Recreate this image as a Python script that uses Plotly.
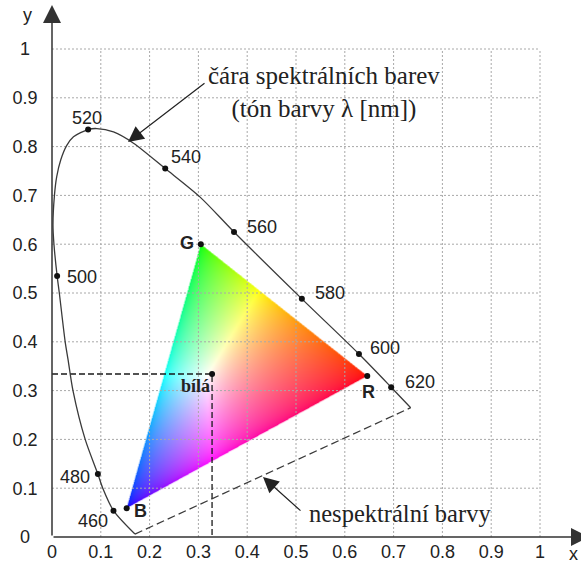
import base64
import struct
import zlib

import numpy as np
import plotly.graph_objects as go

# ---------------- data ----------------
locus_x = [0.170, 0.126, 0.104, 0.094, 0.068, 0.043, 0.033, 0.027, 0.015, 0.0105,
           0.004, 0.002, 0.005, 0.0096, 0.018, 0.030, 0.044, 0.074, 0.092, 0.126,
           0.167, 0.232, 0.303, 0.373, 0.512, 0.629, 0.695, 0.735]
locus_y = [0.006, 0.054, 0.100, 0.129, 0.200, 0.300, 0.363, 0.400, 0.500, 0.535,
           0.600, 0.640, 0.700, 0.738, 0.773, 0.802, 0.820, 0.835, 0.837, 0.830,
           0.807, 0.755, 0.697, 0.625, 0.488, 0.375, 0.307, 0.265]

wl_labels = ["460", "480", "500", "520", "540", "560", "580", "600", "620"]
wl_x = [0.126, 0.094, 0.0105, 0.074, 0.232, 0.373, 0.512, 0.629, 0.695]
wl_y = [0.054, 0.129, 0.535, 0.835, 0.755, 0.625, 0.488, 0.375, 0.307]

prim_names = ["R", "G", "B"]
prim_x = [0.646, 0.305, 0.153]
prim_y = [0.330, 0.600, 0.059]

white_name = "bílá"
white_x = 0.328
white_y = 0.334

tick_vals = [0, 0.1, 0.2, 0.3, 0.4, 0.5, 0.6, 0.7, 0.8, 0.9, 1]
tick_text = ["0", "0.1", "0.2", "0.3", "0.4", "0.5", "0.6", "0.7", "0.8", "0.9", "1"]

title_text = "čára spektrálních barev<br>(tón barvy λ [nm])"
purple_text = "nespektrální barvy"

# ---------------- layout geometry / styles ----------------
W_PX, H_PX = 581, 566
PPU = 488.0           # pixels per unit
X0_PX, Y0_PX = 52.0, 537.0
xr = [-X0_PX / PPU, (W_PX - X0_PX) / PPU]
yr = [-(H_PX - Y0_PX) / PPU, Y0_PX / PPU]

def px2x(p):
    return (p - X0_PX) / PPU

def px2y(p):
    return (Y0_PX - p) / PPU

SANS = "Liberation Sans, Arial, sans-serif"
SERIF = "Liberation Serif, Times New Roman, serif"
TXT = "#222222"
LINE = "#3a3a3a"
FS = 18

# label pixel offsets (right, down)
wl_off = [(-20, 10), (-23, 3), (25, 1), (-1, -12), (21, -12), (28, -5), (28, -6), (26, -6), (29, -5)]
prim_off = [(1, 16), (-14, -1), (14, 3)]
white_off = (-17, 12)

# ---------------- triangle colour image ----------------
S = 2 * PPU
pad = 0.004
bx0, bx1 = min(prim_x) - pad, max(prim_x) + pad
by0, by1 = min(prim_y) - pad, max(prim_y) + pad
Wi = int(round((bx1 - bx0) * S))
Hi = int(round((by1 - by0) * S))
gx = bx0 + (np.arange(Wi) + 0.5) / S
gy = by1 - (np.arange(Hi) + 0.5) / S
X, Y = np.meshgrid(gx, gy)
(x1, y1), (x2, y2), (x3, y3) = zip(prim_x, prim_y)
det = (y2 - y3) * (x1 - x3) + (x3 - x2) * (y1 - y3)
l1 = ((y2 - y3) * (X - x3) + (x3 - x2) * (Y - y3)) / det
l2 = ((y3 - y1) * (X - x3) + (x1 - x3) * (Y - y3)) / det
l3 = 1 - l1 - l2
inside = (l1 >= 0) & (l2 >= 0) & (l3 >= 0)
sums = np.array([0.6443, 1.1920, 1.2032])
c = np.stack([np.clip(l1, 0, 1) / sums[0], np.clip(l2, 0, 1) / sums[1], np.clip(l3, 0, 1) / sums[2]], axis=-1)
c = c / np.maximum(c.max(axis=-1, keepdims=True), 1e-9)
c = np.power(c, 1 / 1.9)
rgba = np.zeros((Hi, Wi, 4), dtype=np.uint8)
rgba[..., :3] = np.clip(np.round(c * 255), 0, 255).astype(np.uint8)
rgba[..., 3] = np.where(inside, 255, 0).astype(np.uint8)
raw = b"".join(b"\x00" + rgba[i].tobytes() for i in range(Hi))


def chunk(t, d):
    return struct.pack(">I", len(d)) + t + d + struct.pack(">I", zlib.crc32(t + d) & 0xFFFFFFFF)


png = (b"\x89PNG\r\n\x1a\n" + chunk(b"IHDR", struct.pack(">IIBBBBB", Wi, Hi, 8, 6, 0, 0, 0))
       + chunk(b"IDAT", zlib.compress(raw, 9)) + chunk(b"IEND", b""))
png_uri = "data:image/png;base64," + base64.b64encode(png).decode()

# ---------------- figure ----------------
fig = go.Figure()

# grid
gxs, gys = [], []
for v in tick_vals[1:]:
    gxs += [v, v, None]
    gys += [0, 1, None]
    gxs += [0, 1, None]
    gys += [v, v, None]
fig.add_trace(go.Scatter(x=gxs, y=gys, mode="lines", hoverinfo="skip",
                         line=dict(color="#a8a8a8", width=1, dash="2px,2px")))

# white point dashed guides
fig.add_trace(go.Scatter(x=[0, white_x, white_x], y=[white_y, white_y, 0], mode="lines",
                         line=dict(color="#1a1a1a", width=1.3, dash="6px,3px"), hoverinfo="skip"))

# purple line
fig.add_trace(go.Scatter(x=[locus_x[0], locus_x[-1]], y=[locus_y[0], locus_y[-1]], mode="lines",
                         line=dict(color=LINE, width=1.3, dash="8px,4px"), hoverinfo="skip"))

# spectral locus
fig.add_trace(go.Scatter(x=locus_x, y=locus_y, mode="lines",
                         line=dict(color=LINE, width=1.3, shape="spline", smoothing=0.8),
                         hoverinfo="skip"))

# dots
fig.add_trace(go.Scatter(x=wl_x + prim_x + [white_x], y=wl_y + prim_y + [white_y], mode="markers",
                         marker=dict(color="#111111", size=6), hoverinfo="skip"))

# tick labels
fig.add_trace(go.Scatter(x=tick_vals, y=[px2y(553)] * len(tick_vals), mode="text", text=tick_text,
                         textfont=dict(family=SANS, size=FS, color=TXT), hoverinfo="skip", cliponaxis=False))
fig.add_trace(go.Scatter(x=[px2x(25)] * len(tick_vals), y=[v - 0.004 for v in tick_vals], mode="text",
                         text=tick_text, textfont=dict(family=SANS, size=FS, color=TXT),
                         hoverinfo="skip", cliponaxis=False))

ann = []
for t, x, y, (dx, dy) in zip(wl_labels, wl_x, wl_y, wl_off):
    ann.append(dict(x=x, y=y, xref="x", yref="y", text=t, showarrow=False, xshift=dx, yshift=-dy,
                    font=dict(family=SANS, size=FS, color=TXT)))
for t, x, y, (dx, dy) in zip(prim_names, prim_x, prim_y, prim_off):
    ann.append(dict(x=x, y=y, xref="x", yref="y", text="<b>" + t + "</b>", showarrow=False,
                    xshift=dx, yshift=-dy, font=dict(family=SANS, size=FS, color=TXT)))
ann.append(dict(x=white_x, y=white_y, xref="x", yref="y", text="<b>" + white_name + "</b>", showarrow=False,
                xshift=white_off[0], yshift=-white_off[1], font=dict(family=SERIF, size=18, color=TXT)))

ann.append(dict(x=px2x(323.5), y=px2y(92), xref="x", yref="y", text=title_text, showarrow=False,
                font=dict(family=SERIF, size=25, color=TXT), align="center"))
ann.append(dict(x=px2x(400), y=px2y(513), xref="x", yref="y", text=purple_text, showarrow=False,
                font=dict(family=SERIF, size=24.5, color=TXT)))

# pointer arrows
ann.append(dict(x=px2x(128), y=px2y(142), ax=px2x(206), ay=px2y(82), xref="x", yref="y", axref="x", ayref="y",
                text="", showarrow=True, arrowhead=2, arrowsize=2.6, arrowwidth=1.2, arrowcolor="#222"))
ann.append(dict(x=px2x(263), y=px2y(477), ax=px2x(302), ay=px2y(512), xref="x", yref="y", axref="x", ayref="y",
                text="", showarrow=True, arrowhead=2, arrowsize=2.6, arrowwidth=1.2, arrowcolor="#222"))

# axes with arrows
ann.append(dict(x=0, y=px2y(5), ax=0, ay=0, xref="x", yref="y", axref="x", ayref="y",
                text="", showarrow=True, arrowhead=2, arrowsize=2.4, arrowwidth=1.5, arrowcolor="#333"))
ann.append(dict(x=px2x(589), y=0, ax=0, ay=0, xref="x", yref="y", axref="x", ayref="y",
                text="", showarrow=True, arrowhead=2, arrowsize=2.4, arrowwidth=1.5, arrowcolor="#333"))
ann.append(dict(x=px2x(27), y=px2y(15), xref="x", yref="y", text="y", showarrow=False,
                font=dict(family=SANS, size=FS, color=TXT)))
ann.append(dict(x=px2x(580), y=px2y(554), xref="x", yref="y", text="x", showarrow=False, xanchor="right",
                font=dict(family=SANS, size=FS, color=TXT)))

fig.update_layout(
    width=W_PX, height=H_PX,
    margin=dict(l=0, r=0, t=0, b=0),
    paper_bgcolor="white", plot_bgcolor="white",
    showlegend=False,
    xaxis=dict(range=xr, visible=False, fixedrange=True),
    yaxis=dict(range=yr, visible=False, fixedrange=True),
    annotations=ann,
    images=[dict(source=png_uri, xref="x", yref="y", x=bx0, y=by1, sizex=bx1 - bx0, sizey=by1 - by0,
                 sizing="stretch", xanchor="left", yanchor="top", layer="below")],
)

fig.write_html("out.html")
